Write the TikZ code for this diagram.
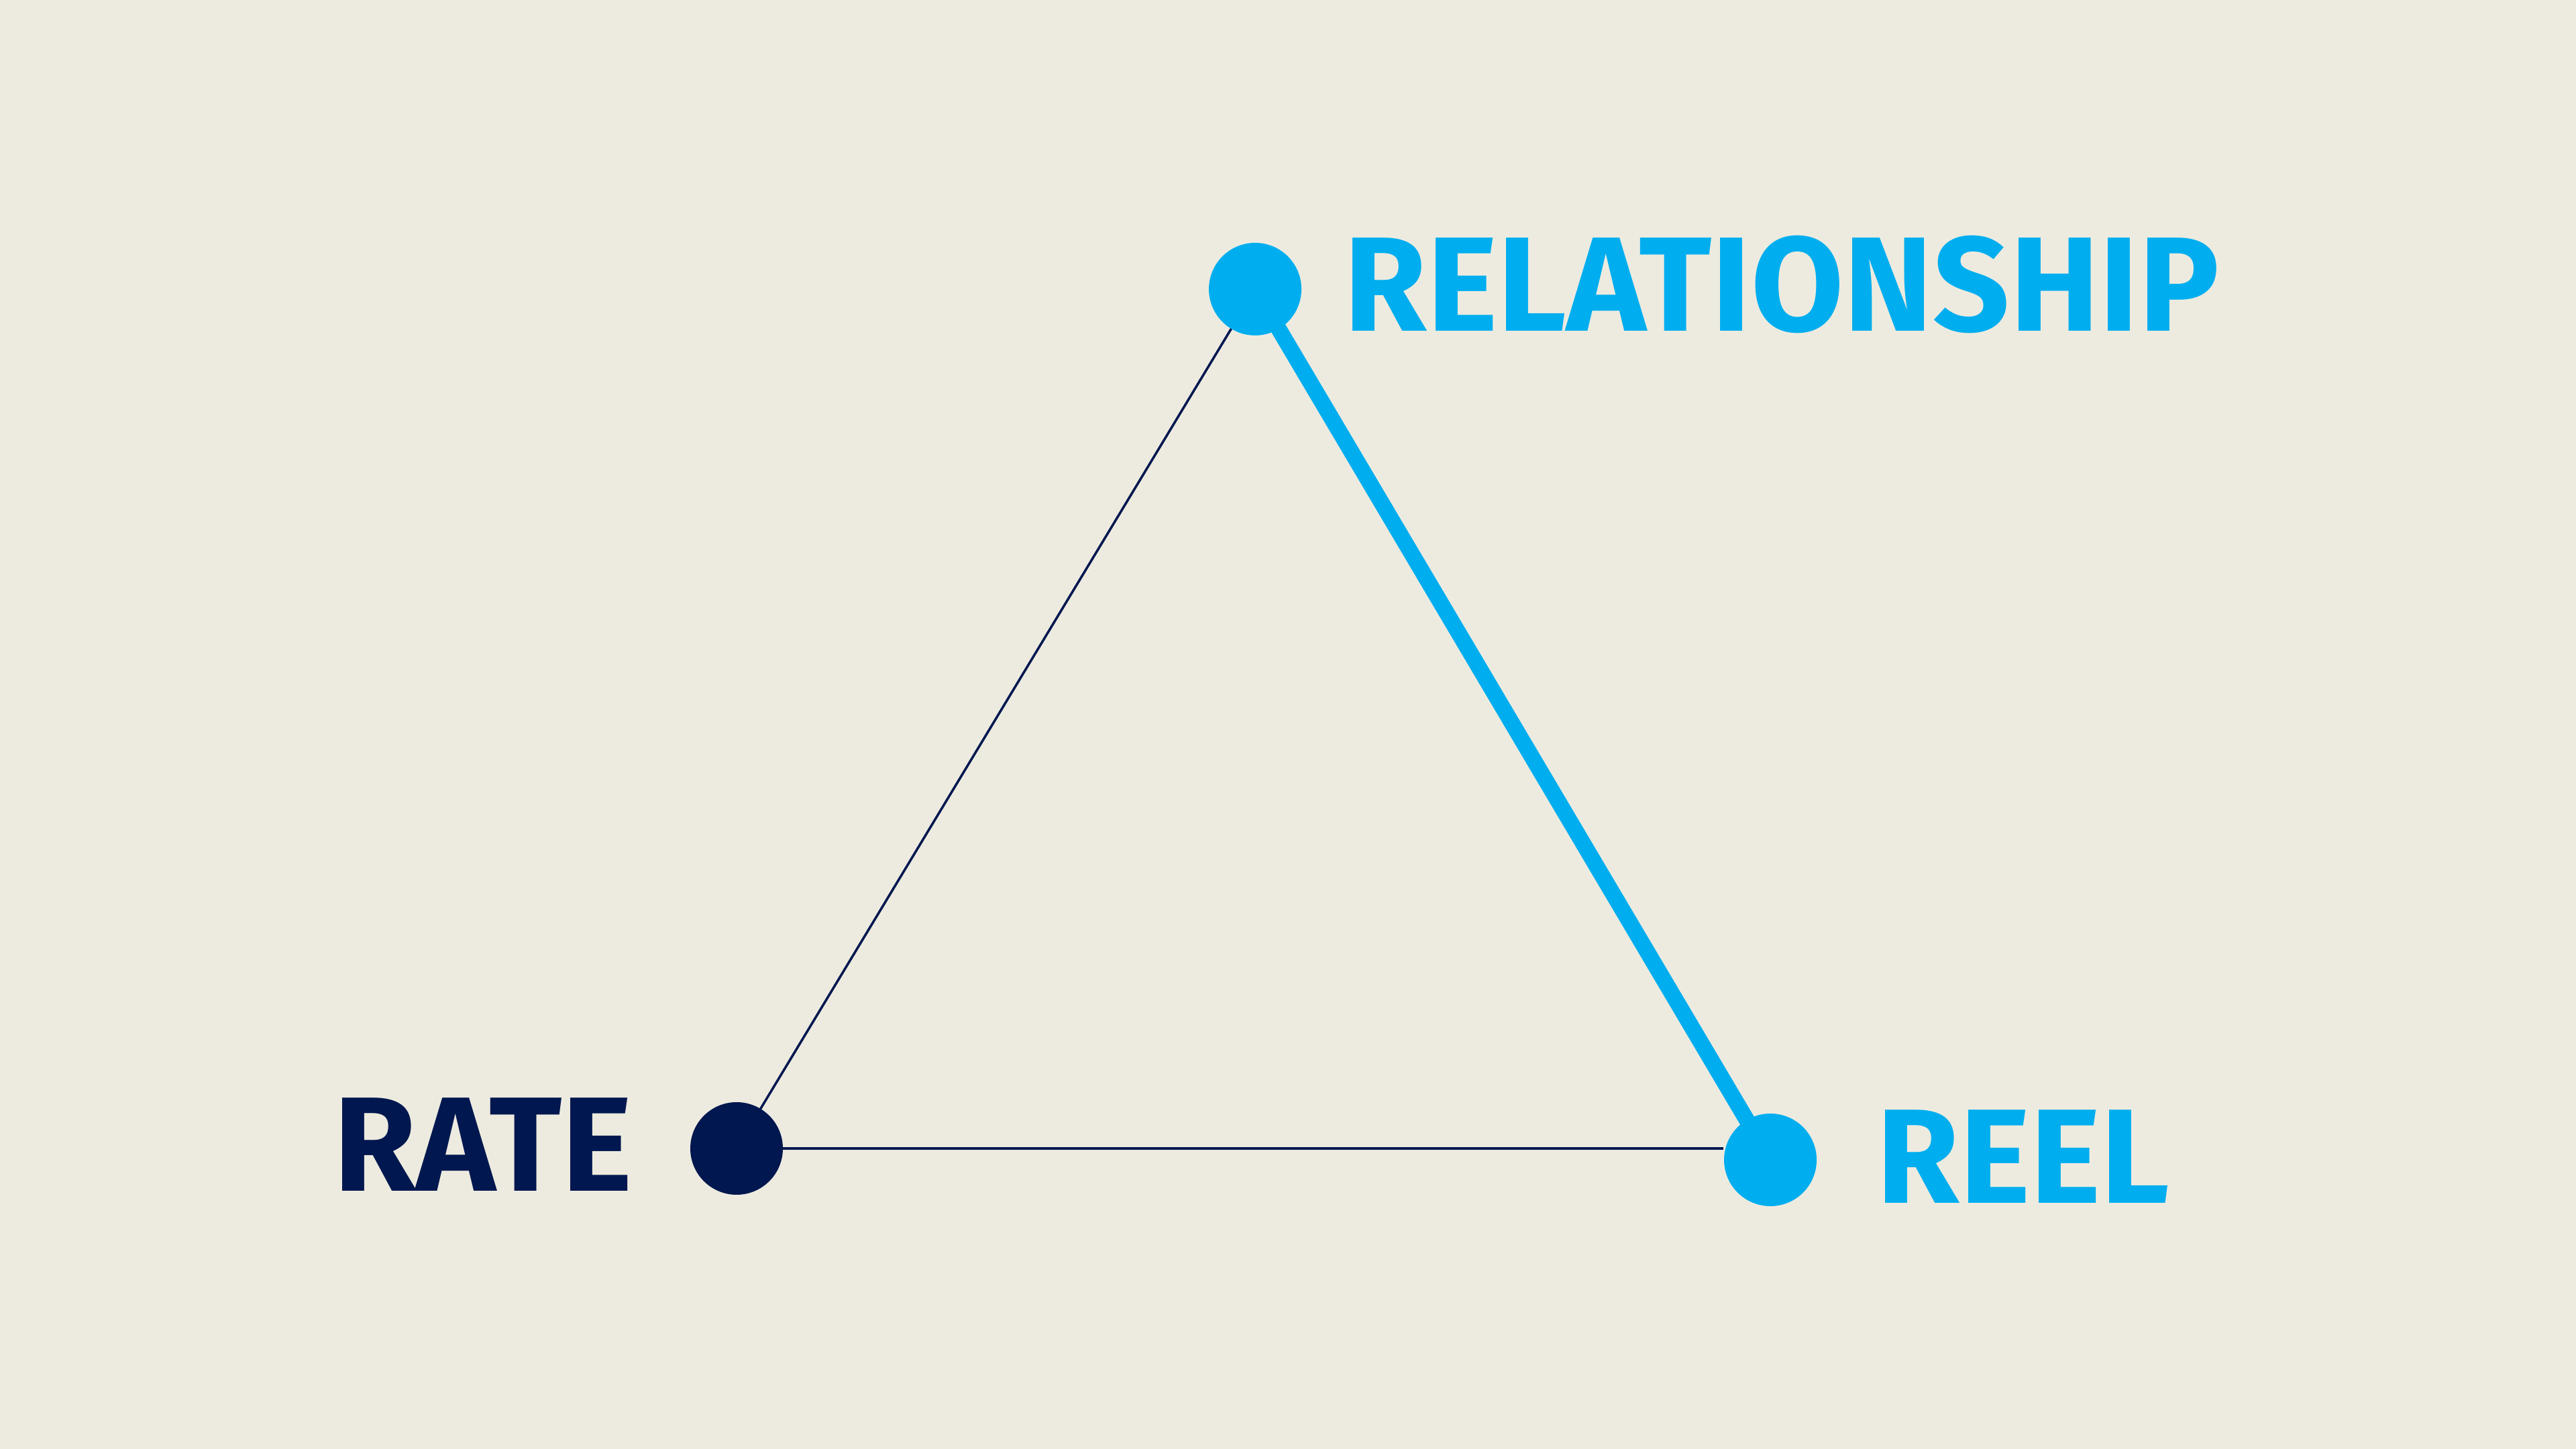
\documentclass[tikz,border=0pt]{standalone}
\usepackage{fontspec}
\setmainfont{Fira Sans}
\usepackage{xcolor}
\usetikzlibrary{positioning, backgrounds}

\definecolor{paper}{RGB}{237,235,224}
\definecolor{skyblue}{RGB}{0,174,239}
\definecolor{navy}{RGB}{0,23,79}

\begin{document}
\begin{tikzpicture}[
    vertex/.style={circle, fill=#1, minimum size=1.38cm, inner sep=0pt},
    word/.style={text=#1, inner sep=0pt, font=\fontsize{57}{57}\selectfont\bfseries},
    thinlink/.style={draw=navy, line width=1pt},
    thicklink/.style={draw=skyblue, line width=6.8pt},
]
    \useasboundingbox (0,0) rectangle (38.4,21.6);

    % vertices
    \node[vertex=skyblue] (rel) at (18.71,17.29) {};
    \node[vertex=navy] (rate) at (10.98,4.48) {};
    \node[vertex=skyblue] (reel) at (26.39,4.31) {};

    % labels
    \node[word=skyblue, anchor=west, right=0.62cm of rel, yshift=0.07cm] (relTxt) {RELATIONSHIP};
    \node[word=navy, anchor=east, left=0.85cm of rate, yshift=0.06cm] (rateTxt) {RATE};
    \node[word=skyblue, anchor=west, right=0.88cm of reel, yshift=0.05cm] (reelTxt) {REEL};

    % edges
    \begin{scope}[on background layer]
        \fill[paper] (0,0) rectangle (38.4,21.6);
        \draw[thinlink] (rel.center) -- (rate.center);
        \draw[thinlink] (rate.center) -- (rate -| reel.west);
        \draw[thicklink] (rel.center) -- (reel.center);
    \end{scope}
\end{tikzpicture}
\end{document}
